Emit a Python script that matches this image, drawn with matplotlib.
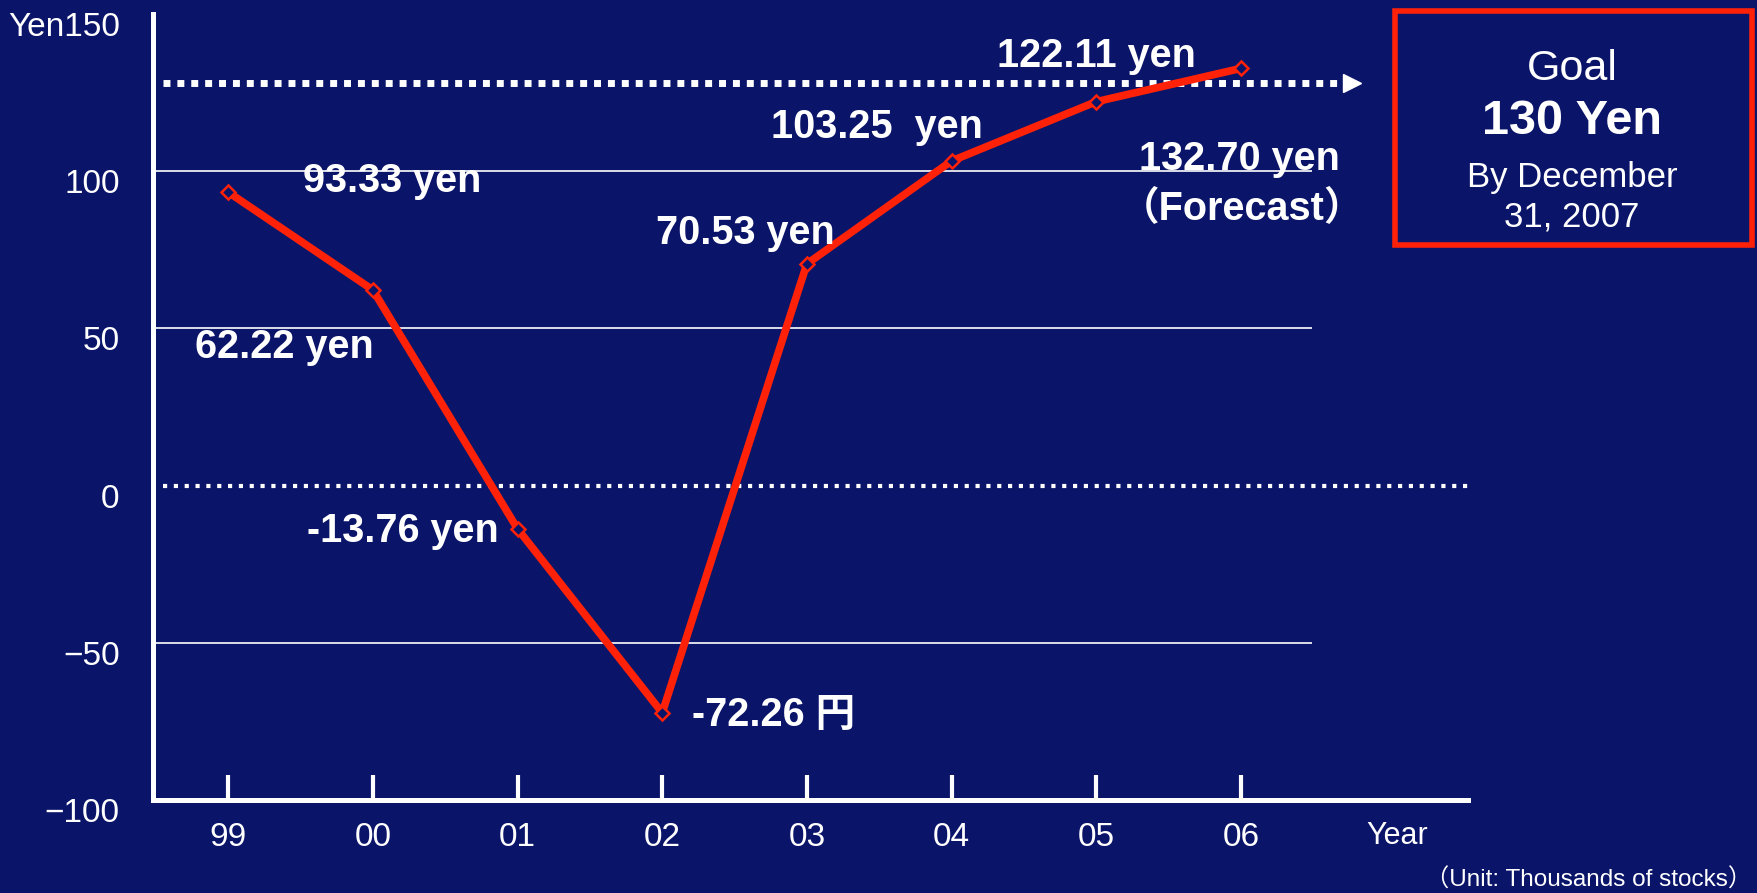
import matplotlib.pyplot as plt
from matplotlib.patches import Rectangle
from matplotlib.transforms import ScaledTranslation

# values
years = ['99', '00', '01', '02', '03', '04', '05', '06']
eps = [93.33, 62.22, -13.76, -72.26, 70.53, 103.25, 122.11, 132.70]
yticks = [-100, -50, 0, 50, 100, 150]
ytick_labels = ['\u2212100', '\u221250', '0', '50', '100', 'Yen150']
gridlines = [100, 50, -50]
goal_value = 128

navy = '#0A1468'
red = '#FF2208'
regular = ['Liberation Sans', 'Noto Sans CJK JP', 'DejaVu Sans']
bold = ['Liberation Sans', 'Noto Sans CJK JP', 'DejaVu Sans']

fig = plt.figure(figsize=(17.57, 8.93), dpi=100, facecolor=navy)
ax = fig.add_axes([153 / 1757, 93 / 893, 1315 / 1757, 786 / 893])
ax.set_facecolor(navy)

x = list(range(len(years)))
ax.set_xlim(-0.52, 8.57)
ax.set_ylim(-100, 150)

for s in ['top', 'right']:
    ax.spines[s].set_visible(False)
for s in ['left', 'bottom']:
    ax.spines[s].set_color('white')
    ax.spines[s].set_linewidth(3.6)

ax.hlines(gridlines, -0.52, 7.49, color='white', lw=1.2, zorder=1)
ax.hlines(0, -0.45, 8.57, color='white', lw=3, linestyles=(0, (1, 1.6)), zorder=1)
ax.plot([-0.45, 7.72], [goal_value, goal_value], color='white', lw=5,
        dashes=(1, 1), solid_capstyle='butt', dash_capstyle='butt', zorder=1)
ax.plot([7.77], [goal_value], marker='>', ms=13, color='white', clip_on=False, zorder=1)

ax.plot(x, eps, color=red, lw=5.5, marker='D', ms=7, mfc=navy, mec=red, mew=1.8,
        zorder=3, clip_on=False)

ax.set_yticks(yticks)
ax.set_yticklabels(ytick_labels, fontsize=24, color='white', family=regular)
ax.tick_params(axis='y', length=0, pad=24)
shift = ScaledTranslation(0, -10 / 100, fig.dpi_scale_trans)
for lab in ax.get_yticklabels():
    lab.set_transform(lab.get_transform() + shift)

ax.set_xticks(x)
ax.set_xticklabels(years, fontsize=24, color='white', family=regular)
ax.tick_params(axis='x', direction='in', length=18, width=3, color='white', pad=16)

ax.text(8.08, -111.4, 'Year', fontsize=22, color='white',
        family=regular, ha='center', va='center', clip_on=False)

labels = [
    (0.515, 96.9, '93.33 yen', 'left'),
    (-0.232, 44.1, '62.22 yen', 'left'),
    (0.543, -14.4, '-13.76 yen', 'left'),
    (3.205, -73.0, '-72.26 \u5186', 'left'),
    (2.956, 80.3, '70.53 yen', 'left'),
    (3.752, 114.1, '103.25  yen', 'left'),
    (5.315, 136.6, '122.11 yen', 'left'),
    (6.988, 103.9, '132.70 yen', 'center'),
    (7.009, 88.3, '\uff08Forecast\uff09', 'center'),
]
for lx, ly, txt, ha in labels:
    ax.text(lx, ly, txt, fontsize=28.5, fontweight='bold', color='white',
            family=bold, ha=ha, va='center', zorder=4)

fig.patches.append(Rectangle((1395 / 1757, 648 / 893), 357 / 1757, 234 / 893,
                             transform=fig.transFigure, fill=False,
                             edgecolor=red, lw=4))
fig.text(0.8947, 0.9232, 'Goal', fontsize=31, color='white', ha='center', va='center',
         family=regular)
fig.text(0.8947, 0.8640, '130 Yen', fontsize=35, fontweight='bold', color='white',
         ha='center', va='center', family=bold)
fig.text(0.8947, 0.8015, 'By December', fontsize=25, color='white', ha='center',
         va='center', family=regular)
fig.text(0.8947, 0.7565, '31, 2007', fontsize=25, color='white', ha='center',
         va='center', family=regular)
fig.text(1752 / 1757, 1 - 880 / 893, '\uff08Unit: Thousands of stocks\uff09', fontsize=17.5,
         color='white', ha='right', va='center', family=regular)

fig.savefig('out.png', dpi=100, facecolor=navy)
